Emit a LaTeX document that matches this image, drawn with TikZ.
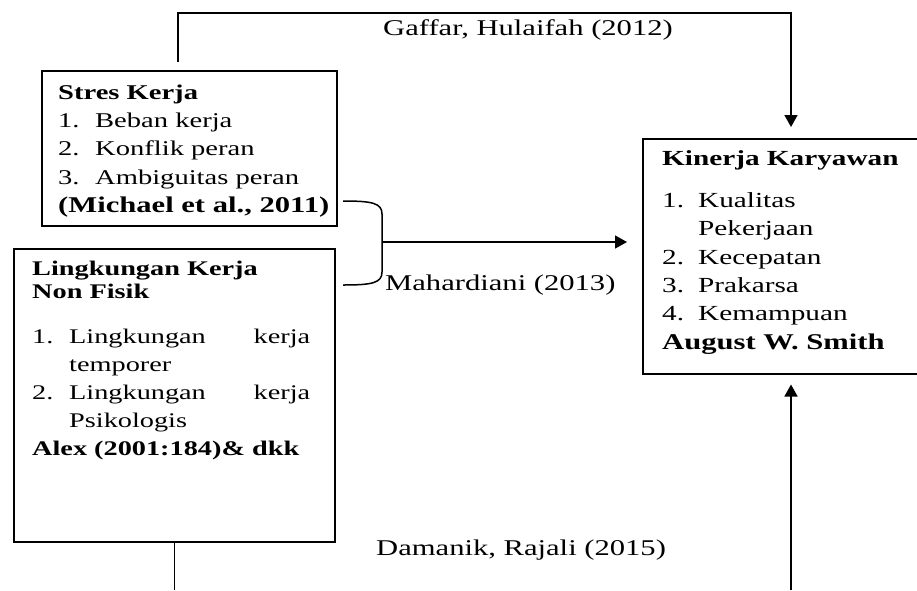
\documentclass[tikz,border=0pt]{standalone}
\usepackage{fontspec}
\setmainfont{Liberation Serif}[FakeStretch=1.36]
\usetikzlibrary{arrows.meta,calc}
\tikzset{
  box/.style={draw, line width=1.5pt, inner sep=0pt, anchor=north west},
  txt/.style={inner sep=0pt, anchor=north west, align=left},
  lbl/.style={inner sep=0pt, anchor=base west, font={\fontsize{22.5}{27}\selectfont}},
  conn/.style={line width=1.5pt},
  arr/.style={line width=1.5pt, -{Triangle[length=12pt,width=13pt]}}
}
\newcommand{\nm}[1]{\makebox[37pt][l]{#1}}
\newcommand{\bigbold}[1]{{\fontsize{22.5}{28.3}\selectfont\textbf{#1}}}
\begin{document}
\begin{tikzpicture}[x=1pt,y=-1pt]
\useasboundingbox (0,0) rectangle (917,590);
\clip (0,0) rectangle (917,590);
% boxes
\node[box, minimum width=295pt, minimum height=155pt] (stres) at (41,70) {};
\node[box, minimum width=321pt, minimum height=293pt] (ling) at (13,248) {};
\node[box, minimum width=298pt, minimum height=235pt] (kin) at (642,138) {};
% box texts
\node[txt, font={\fontsize{21}{28.3}\selectfont}] (stxt) at (58,79.2) {\strut\textbf{Stres Kerja}\\
\nm{1.}Beban kerja\\
\nm{2.}Konflik peran\\
\nm{3.}Ambiguitas peran\\
\bigbold{(Michael et al., 2011)}};
\node[txt, font={\fontsize{20.8}{28}\selectfont}] (ltxt) at (32,255.4) {\strut\textbf{Lingkungan Kerja}\\[-5pt]
\textbf{Non Fisik}\\[17pt]
\nm{1.}\hbox to 241pt{Lingkungan\hfill kerja}\\
\nm{}temporer\\
\nm{2.}\hbox to 241pt{Lingkungan\hfill kerja}\\
\nm{}Psikologis\\
\textbf{Alex (2001:184)\& dkk}};
\node[txt, font={\fontsize{21.5}{28.3}\selectfont}] (ktxt) at (662,145.2) {\strut\textbf{Kinerja Karyawan}\\[14pt]
\makebox[36pt][l]{1.}Kualitas\\
\makebox[36pt][l]{}Pekerjaan\\
\makebox[36pt][l]{2.}Kecepatan\\
\makebox[36pt][l]{3.}Prakarsa\\
\makebox[36pt][l]{4.}Kemampuan\\
\bigbold{August W. Smith}};
% labels
\node[lbl] (gaffar) at (383,35) {Gaffar, Hulaifah (2012)};
\node[lbl] (mahar) at (385,290) {Mahardiani (2013)};
\node[lbl] (daman) at (376,555) {Damanik, Rajali (2015)};
% top connector
\coordinate (t0) at (178,62);
\coordinate (t1) at (178,13);
\coordinate (t2) at (791,13);
\draw[arr, shorten >=11pt] (t0) -- (t1) -- (t2) -- (t2 |- kin.north);
% bracket
\coordinate (b1) at (343,201);
\coordinate (b2) at (382,214);
\coordinate (b3) at (382,272);
\coordinate (b4) at (343,285);
\coordinate (bm) at (382,242);
\draw[conn] (b1) .. controls (372,201) and (382,203) .. (b2) -- (b3)
  .. controls (382,283) and (372,285) .. (b4);
\draw[arr] (bm) -- ([xshift=-15pt]kin.west |- bm);
% bottom connectors
\coordinate (lb) at (ling.south |- 0,590);
\draw[conn] (ling.south) -- (lb);
\coordinate (kb) at (791,590);
\draw[arr, shorten >=10pt] (kb) -- (kb |- kin.south);
\end{tikzpicture}
\end{document}
